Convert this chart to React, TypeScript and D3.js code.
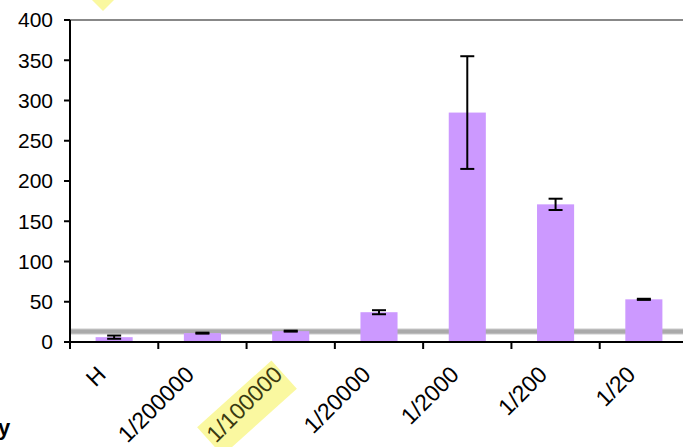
import React from "react";
import * as d3 from "d3";

const categories = ["H", "1/200000", "1/100000", "1/20000", "1/2000", "1/200", "1/20"];
const values = [6, 11, 13.5, 37, 285, 171, 53];
const errors = [2, 0.6, 0.6, 2.5, 70, 7, 0.7];
const threshold = 13;
const yTicks = [0, 50, 100, 150, 200, 250, 300, 350, 400];
const highlighted = "1/100000";

const W = 683;
const H = 447;
const left = 70;
const top = 20;
const bottom = 342;
const right = 688;

export default function App() {
  const x = d3.scaleBand<string>().domain(categories).range([left, right]).paddingInner(0.58).paddingOuter(0.29);
  const step = (right - left) / categories.length;
  const y = d3.scaleLinear().domain([0, 400]).range([bottom, top]);
  const font = "Arial, 'Liberation Sans', sans-serif";
  return (
    <svg width={W} height={H} style={{ position: "absolute", left: 0, top: 0, background: "#fff" }}>
      {/* yellow highlights */}
      <g transform={`translate(103,11) rotate(45)`}>
        <rect x={-40} y={-40} width={40} height={40} fill="#faf8a0" />
      </g>
      <g transform={`translate(247,408) rotate(-42)`}>
        <rect x={-50} y={-19} width={100} height={38} fill="#faf8a0" />
      </g>
      {/* top gridline */}
      <line x1={left} x2={W} y1={y(400)} y2={y(400)} stroke="#888" strokeWidth={2} />
      {/* threshold band */}
      <line x1={left} x2={W} y1={y(threshold)} y2={y(threshold)} stroke="#cccccc" strokeWidth={6} />
      <line x1={left} x2={W} y1={y(threshold)} y2={y(threshold)} stroke="#aaaaaa" strokeWidth={4} />
      {/* bars */}
      {categories.map((c, i) => (
        <rect key={c} x={x(c)!} y={y(values[i])} width={x.bandwidth()} height={bottom - y(values[i])} fill="#cc99ff" />
      ))}
      {/* error bars */}
      {categories.map((c, i) => {
        const cx = x(c)! + x.bandwidth() / 2;
        const y1 = y(values[i] + errors[i]);
        const y2 = y(values[i] - errors[i]);
        return (
          <g key={c} stroke="#000" strokeWidth={2}>
            <line x1={cx} x2={cx} y1={y1} y2={y2} />
            <line x1={cx - 7} x2={cx + 7} y1={y1} y2={y1} />
            <line x1={cx - 7} x2={cx + 7} y1={y2} y2={y2} />
          </g>
        );
      })}
      {/* axes */}
      <line x1={left} x2={left} y1={top} y2={bottom + 1} stroke="#000" strokeWidth={2} />
      <line x1={left - 1} x2={W} y1={bottom} y2={bottom} stroke="#000" strokeWidth={2} />
      {yTicks.map((t) => (
        <g key={t}>
          <line x1={left - 6} x2={left} y1={y(t)} y2={y(t)} stroke="#000" strokeWidth={2} />
          <text x={53} y={y(t)} dy="0.35em" textAnchor="end" fontFamily={font} fontSize={21} fill="#000">
            {t}
          </text>
        </g>
      ))}
      {d3.range(categories.length + 1).map((i) => (
        <line key={i} x1={left + i * step} x2={left + i * step} y1={bottom} y2={bottom + 7} stroke="#000" strokeWidth={2} />
      ))}
      {categories.map((c) => {
        const cx = x(c)! + x.bandwidth() / 2;
        return (
          <text key={c} transform={`translate(${cx - 7},${bottom + 34}) rotate(-45)`} textAnchor="end" fontFamily={font} fontSize={23} fill={c === highlighted ? "#3a3a10" : "#000"}>
            {c}
          </text>
        );
      })}
      <text x={-2} y={435} fontFamily={font} fontSize={22} fontWeight="bold" fill="#000">y</text>
    </svg>
  );
}
